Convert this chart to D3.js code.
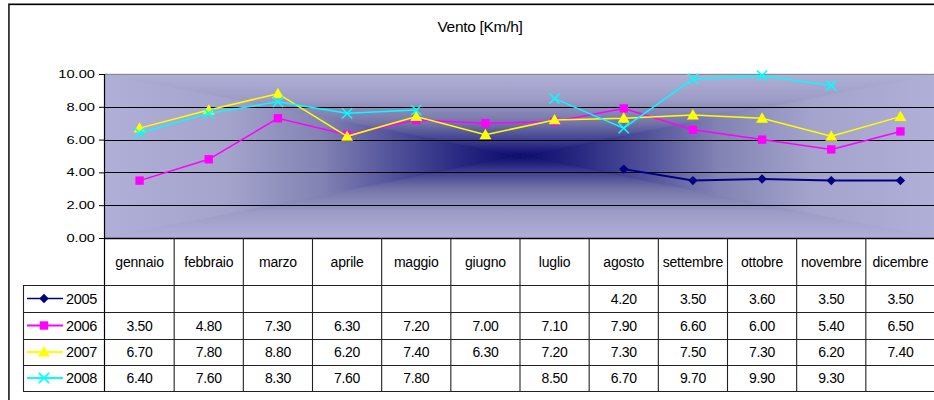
<!DOCTYPE html>
<html><head><meta charset="utf-8">
<script src="https://cdn.jsdelivr.net/npm/d3@7"></script>
<style>body{margin:0;background:#fff;} svg{display:block;font-family:"Liberation Sans",Arial,sans-serif;}</style>
</head><body>
<script>
const title = "Vento [Km/h]";
const months = ["gennaio","febbraio","marzo","aprile","maggio","giugno","luglio","agosto","settembre","ottobre","novembre","dicembre"];
const years = ["2005","2006","2007","2008"];
const v2005 = [null,null,null,null,null,null,null,4.2,3.5,3.6,3.5,3.5];
const v2006 = [3.5,4.8,7.3,6.3,7.2,7.0,7.1,7.9,6.6,6.0,5.4,6.5];
const v2007 = [6.7,7.8,8.8,6.2,7.4,6.3,7.2,7.3,7.5,7.3,6.2,7.4];
const v2008 = [6.4,7.6,8.3,7.6,7.8,null,8.5,6.7,9.7,9.9,9.3,null];
const yTicks = [0,2,4,6,8,10];
const colors = ["#000080","#ff00ff","#ffff00","#00ffff"];
const markers = ["diamond","square","triangle","x"];

const series = years.map((y,i)=>({name:y, values:[v2005,v2006,v2007,v2008][i], color:colors[i], marker:markers[i]}));

const W=934,H=400;
const X0=105,X1=935,Y0=74,Y1=238;
const rowEdges=[285,312,339,365,391];
const legendX=23;

const svg=d3.select("body").append("svg").attr("width",W).attr("height",H);
const x=d3.scaleBand().domain(months).range([X0,X1]).paddingInner(0).paddingOuter(0);
const y=d3.scaleLinear().domain([0,10]).range([Y1,Y0]);

// outer border
svg.append("rect").attr("x",8.5).attr("y",3.5).attr("width",1000).attr("height",500).attr("fill","none").attr("stroke","#999").attr("stroke-width",1);
svg.append("rect").attr("x",9).attr("y",4.5).attr("width",1000).attr("height",500).attr("fill","none").attr("stroke","#000").attr("stroke-width",1.3);

// title
svg.append("text").attr("x",480).attr("y",32).attr("text-anchor","middle").attr("font-size",15.5).attr("letter-spacing",-0.3).text(title);

// background gradient (rectangular from centre, built from 4 triangles)
const defs=svg.append("defs");
const cx=(X0+X1)/2, cy=(Y0+Y1)/2;
const hStops=[[0,"#afafd7"],[0.3,"#a3a3cc"],[0.52,"#8383b4"],[0.7,"#50509a"],[0.85,"#2a2a82"],[1,"#0a0a6c"]];
const vStops=[[0,"#afafd7"],[0.3,"#9d9dc7"],[0.6,"#7474a8"],[0.8,"#404090"],[0.92,"#20207c"],[1,"#0a0a6c"]];
function grad(id,x1,y1,x2,y2,stops){
  const g=defs.append("linearGradient").attr("id",id).attr("gradientUnits","userSpaceOnUse")
    .attr("x1",x1).attr("y1",y1).attr("x2",x2).attr("y2",y2);
  stops.forEach(s=>g.append("stop").attr("offset",s[0]).attr("stop-color",s[1]));
}
grad("gT",cx,Y0,cx,cy,vStops);
grad("gB",cx,Y1,cx,cy,vStops);
grad("gL",X0,cy,cx,cy,hStops);
grad("gR",X1,cy,cx,cy,hStops);
const bg=svg.append("g");
bg.append("rect").attr("x",X0).attr("y",Y0).attr("width",X1-X0).attr("height",Y1-Y0).attr("fill","#8a8ab8");
const tri=[
  {id:"gT",p:[[X0,Y0],[X1,Y0],[cx,cy]]},
  {id:"gB",p:[[X0,Y1],[X1,Y1],[cx,cy]]},
  {id:"gL",p:[[X0,Y0],[X0,Y1],[cx,cy]]},
  {id:"gR",p:[[X1,Y0],[X1,Y1],[cx,cy]]}
];
bg.selectAll("polygon").data(tri).join("polygon")
  .attr("points",d=>d.p.map(q=>q.join(",")).join(" "))
  .attr("fill",d=>`url(#${d.id})`).attr("stroke",d=>`url(#${d.id})`).attr("stroke-width",0.6);

// gridlines
svg.append("g").selectAll("line").data(yTicks.filter(t=>t>0)).join("line")
  .attr("x1",X0).attr("x2",X1).attr("y1",d=>Math.round(y(d))+0.5).attr("y2",d=>Math.round(y(d))+0.5)
  .attr("stroke",d=>d===10?"#888":"#000").attr("stroke-width",1);

// y axis
const yAxis=svg.append("g").attr("transform",`translate(${X0},0)`)
  .call(d3.axisLeft(y).tickValues(yTicks).tickSize(6).tickFormat(""));
yAxis.select(".domain").remove();
yAxis.selectAll(".tick line").attr("stroke","#000");
svg.append("line").attr("x1",X0-0.5).attr("x2",X0-0.5).attr("y1",Y0).attr("y2",rowEdges[4]).attr("stroke","#000").attr("stroke-width",1.2);
svg.append("g").selectAll("text").data(yTicks).join("text")
  .attr("transform",d=>`translate(95,${y(d)+4}) scale(1.28,1)`)
  .attr("text-anchor","end").attr("font-size",11.5).text(d3.format(".2f"));

// table
const tbl=svg.append("g").attr("stroke","#222").attr("stroke-width",1.1);
tbl.append("line").attr("x1",X0).attr("x2",X1).attr("y1",Y1+0.5).attr("y2",Y1+0.5).attr("stroke","#000").attr("stroke-width",1.3);
tbl.selectAll(".h").data(rowEdges).join("line").attr("class","h")
  .attr("x1",legendX).attr("x2",X1).attr("y1",d=>d+0.5).attr("y2",d=>d+0.5);
tbl.selectAll(".v").data(months.slice(1).concat(["__end"])).join("line").attr("class","v")
  .attr("x1",d=>d==="__end"?X1:x(d)).attr("x2",d=>d==="__end"?X1:x(d))
  .attr("y1",Y1).attr("y2",rowEdges[4]);
tbl.append("line").attr("x1",legendX+0.5).attr("x2",legendX+0.5).attr("y1",rowEdges[0]).attr("y2",rowEdges[4]);

svg.append("g").selectAll("text").data(months).join("text")
  .attr("x",d=>x(d)+x.bandwidth()/2).attr("y",(Y1+rowEdges[0])/2+5)
  .attr("text-anchor","middle").attr("font-size",14).attr("letter-spacing",-0.2).text(d=>d);

const sym={
  diamond:d3.symbol().type(d3.symbolSquare).size(44)(),
  square:d3.symbol().type(d3.symbolSquare).size(70)(),
  triangle:d3.symbol().type(d3.symbolTriangle).size(62)(),
  x:d3.symbol().type(d3.symbolX).size(70)()
};
function drawMarker(g,s,px,py){
  const p=g.append("path").attr("d",sym[s.marker]);
  if(s.marker==="x"){p.attr("fill","none").attr("stroke",s.color).attr("stroke-width",1.6).attr("transform",`translate(${px},${py})`);}
  else if(s.marker==="diamond"){p.attr("fill",s.color).attr("transform",`translate(${px},${py}) rotate(45)`);}
  else if(s.marker==="triangle"){p.attr("fill",s.color).attr("transform",`translate(${px},${py+1})`);}
  else {p.attr("fill",s.color).attr("transform",`translate(${px},${py})`);}
}

series.forEach((s,i)=>{
  const r0=rowEdges[i], r1=rowEdges[i+1], rc=(r0+r1)/2;
  const lg=svg.append("g");
  lg.append("line").attr("x1",27).attr("x2",63).attr("y1",rc).attr("y2",rc).attr("stroke",s.color).attr("stroke-width",s.name==="2005"?1.6:2);
  drawMarker(lg,s,44,rc);
  lg.append("text").attr("x",66).attr("y",rc+5).attr("font-size",14.5).attr("letter-spacing",-0.3).text(s.name);
  svg.append("g").selectAll("text").data(months.map((m,j)=>({m,v:s.values[j]})).filter(d=>d.v!=null)).join("text")
    .attr("x",d=>x(d.m)+x.bandwidth()/2).attr("y",rc+5).attr("text-anchor","middle")
    .attr("font-size",14).attr("letter-spacing",-0.3).text(d=>d3.format(".2f")(d.v));
});

// series lines and markers
const line=d3.line().defined(d=>d.v!=null).x(d=>x(d.m)+x.bandwidth()/2).y(d=>y(d.v));
series.forEach(s=>{
  const pts=months.map((m,j)=>({m,v:s.values[j]}));
  svg.append("path").datum(pts).attr("d",line).attr("fill","none").attr("stroke",s.color).attr("stroke-width",s.name==="2005"?2:1.5);
  const g=svg.append("g");
  pts.filter(d=>d.v!=null).forEach(d=>drawMarker(g,s,x(d.m)+x.bandwidth()/2,y(d.v)));
});
</script>
</body></html>
